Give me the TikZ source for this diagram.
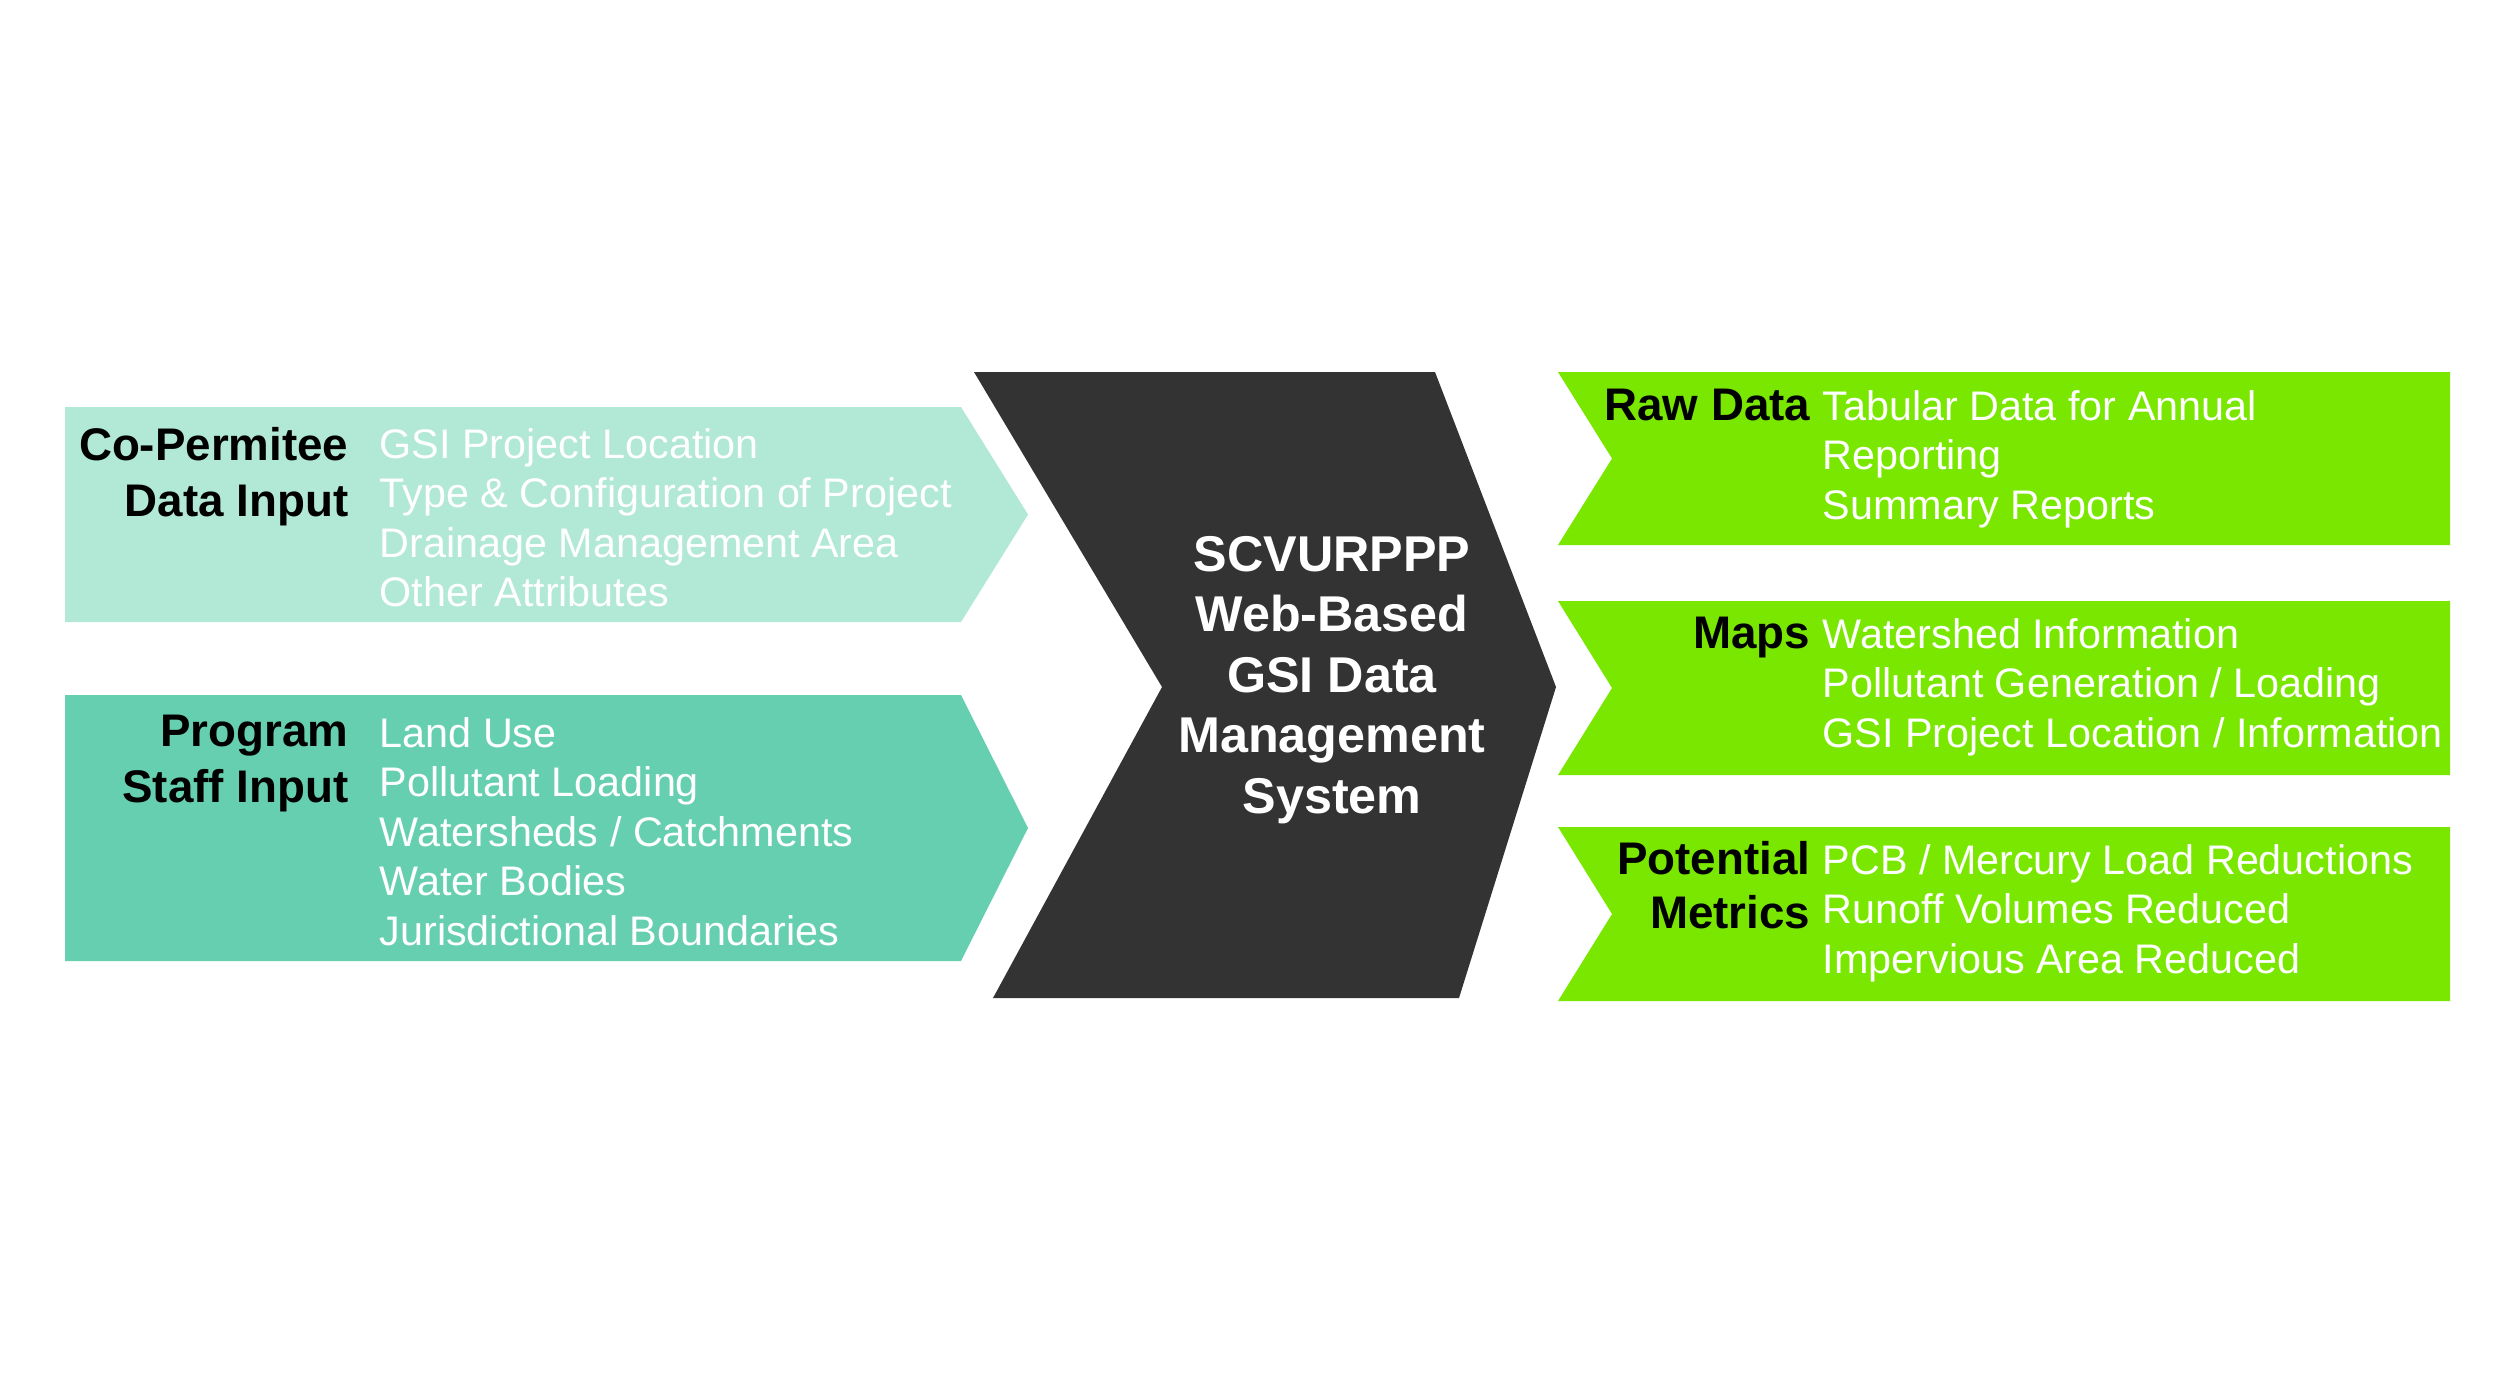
\documentclass[tikz,border=0pt]{standalone}
\usepackage{fontspec}
\setmainfont{Liberation Sans}
\definecolor{lteal}{HTML}{B2E8D6}
\definecolor{mteal}{HTML}{66CFAF}
\definecolor{darkg}{HTML}{333333}
\definecolor{lime}{HTML}{7AE700}
\tikzset{
  item/.style={text=white, font=\fontsize{11.75}{14}\selectfont, anchor=base west, inner sep=0pt},
  lab/.style={text=black, font=\fontsize{13}{15}\selectfont\bfseries, anchor=base east, inner sep=0pt},
  ctr/.style={text=white, font=\fontsize{14.3}{17}\selectfont\bfseries, anchor=base, inner sep=0pt},
}
\begin{document}
\begin{tikzpicture}[x=0.01cm, y=-0.01cm]
\useasboundingbox (0,0) rectangle (2500,1375);
\fill[white] (0,0) rectangle (2500,1375);

% left input chevrons
\fill[lteal] (65,407) -- (961,407) -- (1028,514.5) -- (961,622) -- (65,622) -- cycle;
\fill[mteal] (65,695) -- (961,695) -- (1028,828) -- (961,961) -- (65,961) -- cycle;

% central chevron
\fill[darkg] (974,372) -- (1435,372) -- (1556,687) -- (1459,998) -- (993,998) -- (1162,687) -- cycle;

% output chevrons
\fill[lime] (1558,372) -- (2450,372) -- (2450,545) -- (1558,545) -- (1612,458.5) -- cycle;
\fill[lime] (1558,601) -- (2450,601) -- (2450,775) -- (1558,775) -- (1612,688) -- cycle;
\fill[lime] (1558,827) -- (2450,827) -- (2450,1001) -- (1558,1001) -- (1612,914) -- cycle;

% left labels
\node[lab] (la1) at (349,460) {Co-Permitee};
\node[lab] (la2) at (349,516) {Data Input};
\node[lab] (lb1) at (349,746) {Program};
\node[lab] (lb2) at (349,802) {Staff Input};

% left items
\foreach \t [count=\i] in {GSI Project Location, Type \& Configuration of Project, Drainage Management Area, Other Attributes}
  \node[item] (ia\i) at (379,{458+(\i-1)*49.5}) {\t};
\foreach \t [count=\i] in {Land Use, Pollutant Loading, Watersheds / Catchments, Water Bodies, Jurisdictional Boundaries}
  \node[item] (ib\i) at (379,{747+(\i-1)*49.5}) {\t};

% centre text
\foreach \t [count=\i] in {SCVURPPP, Web-Based, GSI Data, Management, System}
  \node[ctr] (c\i) at (1332,{571+(\i-1)*60.5}) {\t};

% right labels
\node[lab] (ra1) at (1811,420) {Raw Data};
\node[lab] (rb1) at (1811,648) {Maps};
\node[lab] (rc1) at (1811,874) {Potential};
\node[lab] (rc2) at (1811,928) {Metrics};

% right items
\foreach \t [count=\i] in {Tabular Data for Annual, Reporting, Summary Reports}
  \node[item] (ja\i) at (1822,{420+(\i-1)*49.5}) {\t};
\foreach \t [count=\i] in {Watershed Information, Pollutant Generation / Loading, GSI Project Location / Information}
  \node[item] (jb\i) at (1822,{648+(\i-1)*49.5}) {\t};
\foreach \t [count=\i] in {PCB / Mercury Load Reductions, Runoff Volumes Reduced, Impervious Area Reduced}
  \node[item] (jc\i) at (1822,{874+(\i-1)*49.5}) {\t};
\end{tikzpicture}
\end{document}
